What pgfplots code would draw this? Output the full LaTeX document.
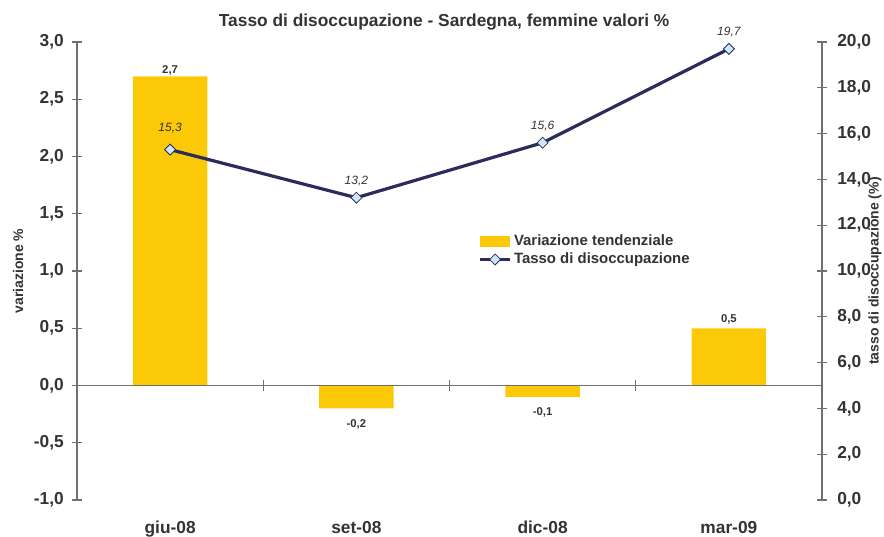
\documentclass[border=0pt]{standalone}
\usepackage{pgfplots}
\pgfplotsset{compat=1.18}
\usepackage{fontspec}
\setmainfont{Liberation Sans}
\definecolor{barc}{HTML}{FCC908}
\definecolor{linec}{HTML}{2C2B5E}
\definecolor{markc}{HTML}{CDE7F7}
\definecolor{axc}{HTML}{707070}
\definecolor{txt}{HTML}{333333}
\pgfplotsset{
  common/.style={
    scale only axis, width=558.75pt, height=343.5pt,
    xmin=-0.5, xmax=3.5,
    at={(0,0)}, anchor=south west,
    tick align=center, major tick length=8pt,
    every tick/.style={axc, line width=0.8pt},
    axis line style={axc, line width=0.9pt},
    /pgf/number format/use comma,
    /pgf/number format/fixed,
    /pgf/number format/fixed zerofill,
    /pgf/number format/precision=1,
    /pgf/number format/assume math mode=true,
    tick label style={font=\bfseries\fontsize{13}{15}\selectfont, text=txt},
    label style={font=\bfseries\fontsize{10.5}{12}\selectfont, text=txt},
    clip=false,
  },
  linelegend/.style={legend image code/.code={\draw[mark repeat=2, mark phase=2, ##1] plot coordinates {(0pt,0pt) (11pt,0pt) (22pt,0pt)};}},
}
\begin{document}
\begin{tikzpicture}
\begin{axis}[common,
  ymin=-1, ymax=3, ytick={-1,-0.5,0,0.5,1,1.5,2,2.5,3},
  axis y line*=left, axis x line*=bottom,
  x axis line style={draw=none},
  xtick={0,1,2,3}, xticklabels={giu-08,set-08,dic-08,mar-09},
  x tick style={draw=none},
  xticklabel style={anchor=base, yshift=-17.25pt},
  yticklabel style={xshift=-2.4pt},
  ylabel={variazione \%},
  ylabel style={at={(axis description cs:0,0.5)}, anchor=center, yshift=44.25pt},
  title={Tasso di disoccupazione - Sardegna, femmine valori \%},
  title style={at={(axis description cs:0.5,1)}, anchor=center, yshift=9pt, xshift=-4pt, font=\bfseries\fontsize{13}{15}\selectfont, text=txt},
  ybar, bar width=56pt,
  visualization depends on={rawy \as \rawy},
  nodes near coords,
  nodes near coords style={font=\bfseries\fontsize{8.5}{10}\selectfont, text=txt, yshift={\rawy<0 ? -4.5 : (\rawy>1 ? -3 : -0.5)}},
]
\addplot[fill=barc, draw=none] coordinates {(0,2.7) (1,-0.2) (2,-0.1) (3,0.5)};
\draw[axc, line width=0.9pt] (axis cs:-0.5,0) -- (axis cs:3.5,0);
\pgfplotsinvokeforeach{-0.5,0.5,1.5,2.5,3.5}{
  \draw[axc, line width=0.8pt] ([yshift=-4pt]axis cs:#1,0) -- ([yshift=4pt]axis cs:#1,0);
}
\end{axis}
\begin{axis}[common,
  ymin=0, ymax=20, ytick={0,2,4,6,8,10,12,14,16,18,20},
  axis y line*=right, axis x line=none,
  yticklabel style={xshift=3.9pt},
  ylabel={tasso di disoccupazione (\%)},
  ylabel style={at={(axis description cs:1,0.5)}, anchor=center, yshift=-39.75pt},
  legend style={draw=none, fill=none, font=\bfseries\fontsize{11.2}{13}\selectfont, text=txt,
    at={(0.539,0.545)}, anchor=west, row sep=0pt, inner sep=0pt},
  legend cell align=left,
  visualization depends on={rawx \as \rawx},
]
\addlegendimage{legend image code/.code={\fill[barc] (0pt,-3.6pt) rectangle (21.5pt,3.6pt);}}
\addlegendentry{Variazione tendenziale}
\addplot[linec, line width=2.4pt, mark=square*, mark size=2.9pt,
  mark options={rotate=45, fill=markc, draw=linec, line width=0.6pt},
  linelegend,
  nodes near coords,
  nodes near coords style={font=\itshape\fontsize{9}{10}\selectfont, text=txt, anchor=south, yshift={\rawx==0 ? 8.5 : 5.5}},
] coordinates {(0,15.3) (1,13.2) (2,15.6) (3,19.7)};
\addlegendentry{Tasso di disoccupazione}
\end{axis}
\pgfresetboundingbox
\path (-57.75pt,-27pt) rectangle (605.25pt,375pt);
\end{tikzpicture}
\end{document}
